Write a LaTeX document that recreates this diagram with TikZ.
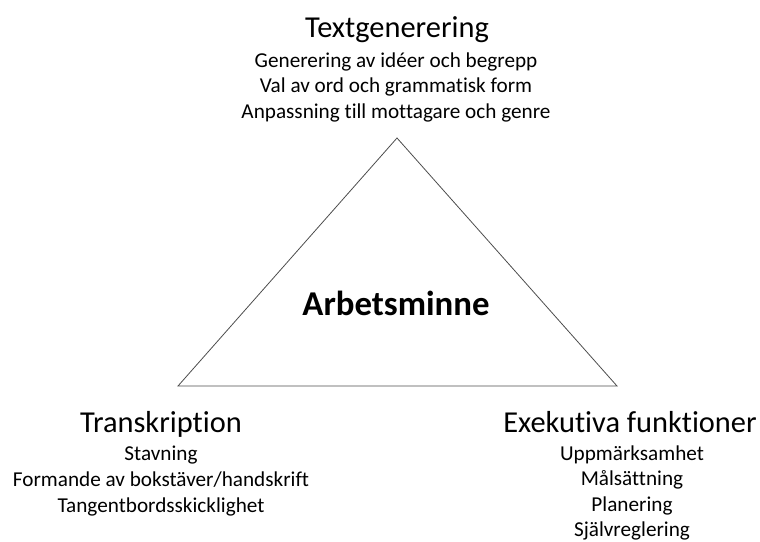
\documentclass[tikz,border=0pt]{standalone}
\usepackage{fontspec}
\setmainfont[Ligatures=NoCommon]{Carlito}
\begin{document}
\begin{tikzpicture}[x=1pt,y=-1pt,
  title/.style={anchor=base,inner sep=0pt,font=\fontsize{30.4}{36}\selectfont},
  sub/.style={anchor=base,inner sep=0pt,font=\fontsize{21.2}{24}\selectfont},
  center/.style={anchor=base,inner sep=0pt,font=\fontsize{34.8}{40}\selectfont\bfseries}]
\useasboundingbox (0,0) rectangle (760,541);
\coordinate (apex) at (397,138);
\coordinate (bl) at (178,386);
\coordinate (br) at (617,386);
\draw[line width=0.8pt,black!70] (apex) -- (br) -- (bl) -- cycle;
\node[center] (am) at (396,315) {Arbetsminne};
% top
\node[title] (tg) at (397,37) {Textgenerering};
\node[sub] (tg1) at (396,67) {Generering av idéer och begrepp};
\node[sub] (tg2) at (396,92) {Val av ord och grammatisk form};
\node[sub] (tg3) at (396,118) {Anpassning till mottagare och genre};
% left
\node[title] (tr) at (161,432) {Transkription};
\node[sub] (tr1) at (161,460) {Stavning};
\node[sub] (tr2) at (161,486) {Formande av bokstäver/handskrift};
\node[sub] (tr3) at (161,512) {Tangentbordsskicklighet};
% right
\node[title] (ex) at (630,432) {Exekutiva funktioner};
\node[sub] (ex1) at (632,460) {Uppmärksamhet};
\node[sub] (ex2) at (632,485) {Målsättning};
\node[sub] (ex3) at (632,511) {Planering};
\node[sub] (ex4) at (632,536) {Självreglering};
\end{tikzpicture}
\end{document}
